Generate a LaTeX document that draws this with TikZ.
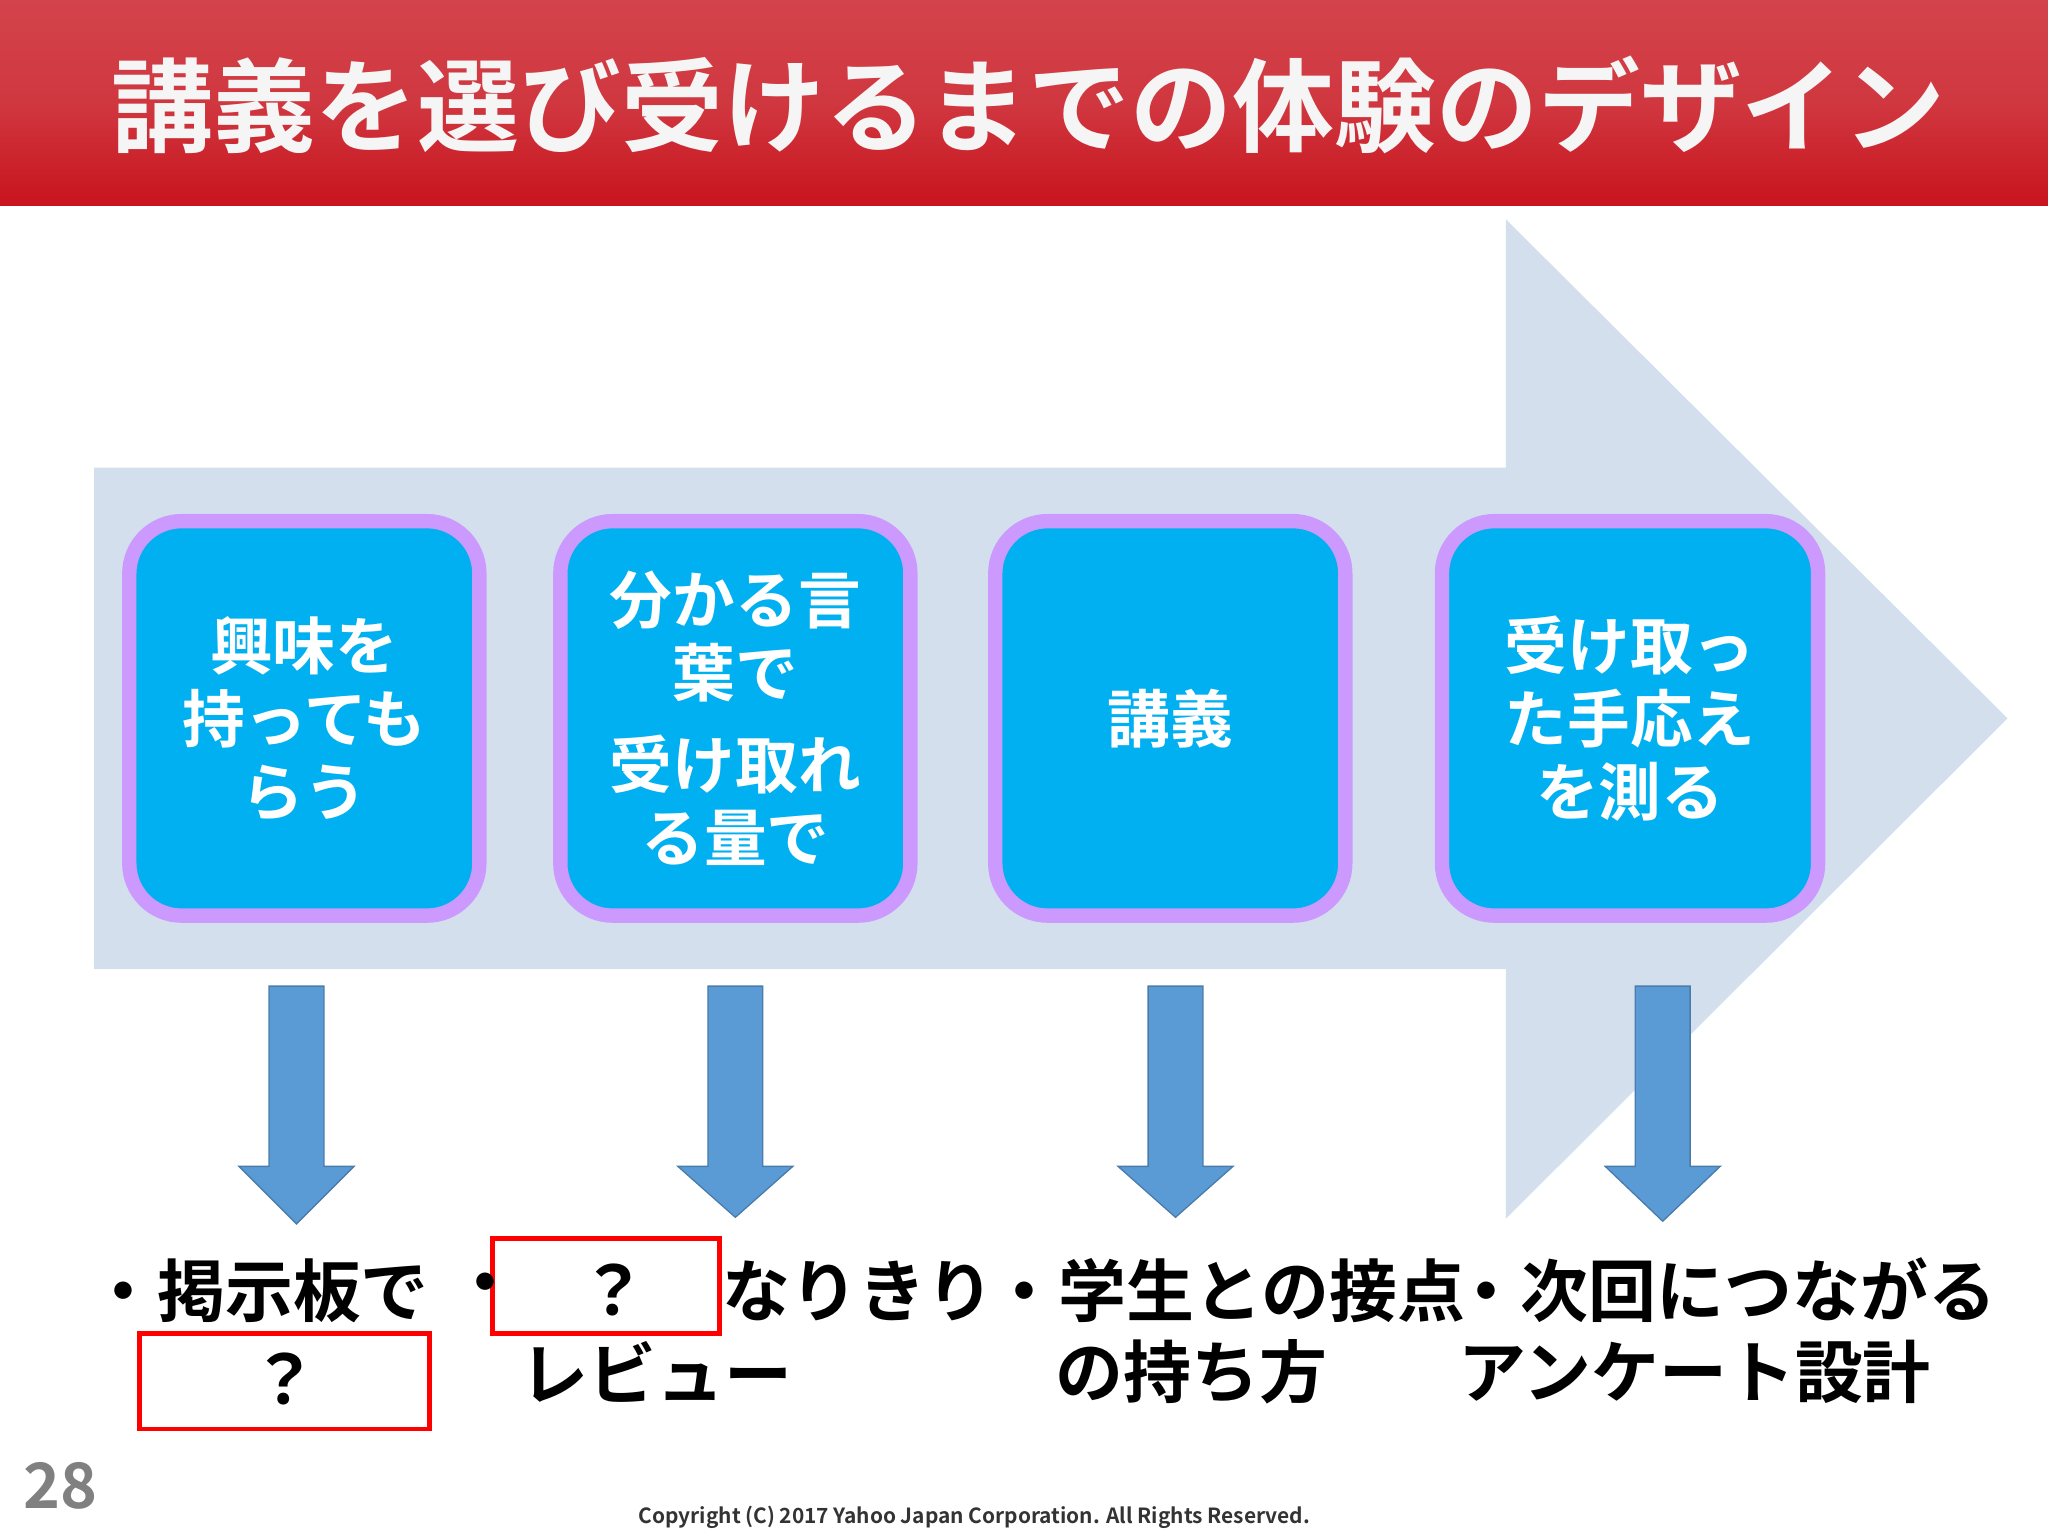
\documentclass[tikz,border=0pt]{standalone}
\usepackage{fontspec}
\setmainfont{Noto Sans CJK JP Bold}
\usetikzlibrary{positioning}
\definecolor{boxblue}{HTML}{00B0F0}
\definecolor{boxrim}{HTML}{CC99FF}
\definecolor{bigarrow}{HTML}{D4DFEE}
\definecolor{downarrow}{HTML}{5B9BD5}
\definecolor{banner}{HTML}{C8141E}
\tikzset{every picture/.style={line width=0.75pt}}
\tikzset{
  stage/.style={rounded corners=40, fill=boxblue, draw=boxrim, line width=11pt, minimum width=268, minimum height=302, text=white, align=center, font=\fontsize{48}{56}\selectfont},
  caption/.style={anchor=west, inner sep=0pt, font=\fontsize{52}{60}\selectfont},
  qmark/.style={inner sep=0pt, font=\fontsize{52}{60}\selectfont},
  qbox/.style={draw=red, line width=3.5pt, fill=white}
}
\begin{document}
\begin{tikzpicture}[x=1pt,y=1pt,yscale=-1]
\useasboundingbox (0,0) rectangle (1568,1176);

% banner
\shade[top color=banner!80!white, bottom color=banner, middle color=banner!85!white] (0,0) rectangle (1568,157);
\node[anchor=west, text=white!92!gray, font=\fontsize{78}{86}\selectfont] (title) at (82,80) {講義を選び受けるまでの体験のデザイン};

% big arrow
\fill[bigarrow] (72,358) -- (1153,358) -- (1153,168) -- (1537,550) -- (1153,933) -- (1153,742) -- (72,742) -- cycle;

% stages
\node[stage] (s1) at (233,550) {興味を\\持っても\\らう};
\node[stage] (s2) at (563,550) {分かる言\\葉で\\[14pt]受け取れ\\る量で};
\node[stage] (s3) at (896,550) {講義};
\node[stage, minimum width=288] (s4) at (1248,550) {受け取っ\\た手応え\\を測る};

% down arrows
\foreach \cx/\ty in {227/937, 563/932, 900/932, 1273/935}
  \fill[downarrow, draw=downarrow!80!black, line width=1pt] (\cx-21,755) -- (\cx+21,755) -- (\cx+21,893) -- (\cx+44,893) -- (\cx,\ty) -- (\cx-44,893) -- (\cx-21,893) -- cycle;

% question boxes
\draw[qbox] (107,1021) rectangle (329,1094);
\draw[qbox] (377,948) rectangle (551,1021);

% captions
\node[caption] (c1) at (68,988) {・掲示板で};
\node[qmark] (q1) at (218,1056) {？};
\node[caption] (c2) at (345,988) {・};
\node[qmark] (q2) at (470,988) {？};
\node[caption] (c2b) at (553,988) {なりきり};
\node[caption] at (398,1050) {レビュー};
\node[caption] (c3) at (758,988) {・学生との接点};
\node[caption] at (808,1050) {の持ち方};
\node[caption] (c4) at (1112,988) {・次回につながる};
\node[caption] at (1116,1050) {アンケート設計};

\node[anchor=west, text=gray, font=\fontsize{48}{50}\selectfont] (page) at (14,1138) {28};
\node[font=\fontsize{16}{18}\selectfont, text=black!80] (copy) at (746,1162) {Copyright (C) 2017 Yahoo Japan Corporation. All Rights Reserved.};
\end{tikzpicture}
\end{document}
